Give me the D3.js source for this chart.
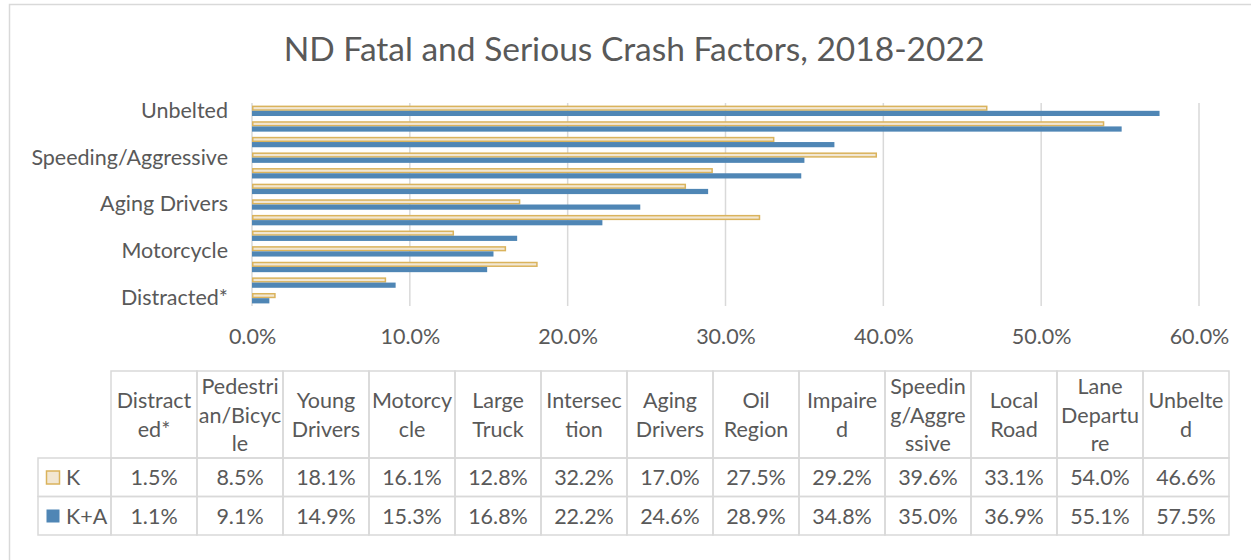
<!DOCTYPE html>
<html>
<head>
<meta charset="utf-8">
<script src="https://cdn.jsdelivr.net/npm/d3@7/dist/d3.min.js"></script>
<style>
  body { margin: 0; background: #fff; }
  text { font-family: Lato, "Open Sans", sans-serif; fill: #595959; }
</style>
</head>
<body>
<div id="chart"></div>
<script>
// data, bottom to top as in the chart
var categories = ["Distracted*", "Pedestrian/Bicycle", "Young Drivers", "Motorcycle", "Large Truck",
  "Intersection", "Aging Drivers", "Oil Region", "Impaired", "Speeding/Aggressive",
  "Local Road", "Lane Departure", "Unbelted"];

// wrapped header labels as shown in the data table
var headerLines = [["Distract", "ed*"], ["Pedestri", "an/Bicyc", "le"], ["Young", "Drivers"],
  ["Motorcy", "cle"], ["Large", "Truck"], ["Intersec", "tion"], ["Aging", "Drivers"],
  ["Oil", "Region"], ["Impaire", "d"], ["Speedin", "g/Aggre", "ssive"], ["Local", "Road"],
  ["Lane", "Departu", "re"], ["Unbelte", "d"]];

var kValues  = [1.5, 8.5, 18.1, 16.1, 12.8, 32.2, 17.0, 27.5, 29.2, 39.6, 33.1, 54.0, 46.6];
var kaValues = [1.1, 9.1, 14.9, 15.3, 16.8, 22.2, 24.6, 28.9, 34.8, 35.0, 36.9, 55.1, 57.5];

var seriesNames = ["K", "K+A"];
var xTicks = [0, 10, 20, 30, 40, 50, 60];

var width = 1251,
    height = 560,
    fontSize = "21.5px";

var colors = {
  "K":   { fill: "#f2e7d3", stroke: "#dab35c" },
  "K+A": { fill: "#4f86b5", stroke: "none" }
};

var rows = categories.map(function(c, i) {
  return { cat: c, "K": kValues[i], "K+A": kaValues[i], lines: headerLines[i] };
});

var svg = d3.select("#chart").append("svg")
  .attr("width", width)
  .attr("height", height);

// outer chart frame (runs off the window on the right and bottom)
svg.append("rect")
  .attr("x", 9.5).attr("y", 4.5)
  .attr("width", 1300).attr("height", 600)
  .attr("fill", "none")
  .attr("stroke", "#d9d9d9")
  .attr("stroke-width", 1.5);

svg.append("text")
  .attr("x", 634).attr("y", 61)
  .attr("text-anchor", "middle")
  .style("font-size", "33.5px")
  .text("ND Fatal and Serious Crash Factors, 2018-2022");

// scales
var x = d3.scaleLinear().domain([0, 60]).range([252, 1199]);

var y = d3.scaleBand()
  .domain(categories.slice().reverse())
  .range([103, 306]);

var ySub = d3.scaleBand()
  .domain(seriesNames)
  .range([0, y.bandwidth()])
  .paddingOuter(0.5);

// gridlines
svg.append("g")
  .selectAll("line")
  .data(xTicks)
  .enter().append("line")
  .attr("x1", function(d) { return x(d); })
  .attr("x2", function(d) { return x(d); })
  .attr("y1", y.range()[0])
  .attr("y2", y.range()[1])
  .attr("stroke", "#d9d9d9")
  .attr("stroke-width", 1.5);

// bars
var group = svg.append("g")
  .selectAll("g")
  .data(rows)
  .enter().append("g")
  .attr("transform", function(d) { return "translate(0," + y(d.cat) + ")"; });

group.selectAll("rect")
  .data(function(d) { return seriesNames.map(function(s) { return { s: s, v: d[s] }; }); })
  .enter().append("rect")
  .attr("x", function(d) { return x(0) + (d.s === "K" ? 0.75 : 0); })
  .attr("y", function(d) { return ySub(d.s) + (d.s === "K" ? 0.75 : 0); })
  .attr("width", function(d) { return x(d.v) - x(0) - (d.s === "K" ? 1.5 : 0); })
  .attr("height", function(d) { return ySub.bandwidth() - (d.s === "K" ? 1.5 : 0); })
  .attr("fill", function(d) { return colors[d.s].fill; })
  .attr("stroke", function(d) { return colors[d.s].stroke; })
  .attr("stroke-width", 1.5);

// y axis: Excel only shows every third label
var yAxis = svg.append("g")
  .attr("transform", "translate(" + x(0) + ",0)")
  .call(d3.axisLeft(y)
    .tickValues(categories.filter(function(d, i) { return i % 3 === 0; }))
    .tickSize(0)
    .tickPadding(24));
yAxis.select(".domain").remove();
yAxis.selectAll("text")
  .style("font-size", fontSize)
  .style("font-family", "Lato, sans-serif")
  .attr("fill", "#595959");

// x axis
var xAxis = svg.append("g")
  .attr("transform", "translate(0," + y.range()[1] + ")")
  .call(d3.axisBottom(x)
    .tickValues(xTicks)
    .tickSize(0)
    .tickPadding(23)
    .tickFormat(function(d) { return d.toFixed(1) + "%"; }));
xAxis.select(".domain").remove();
xAxis.selectAll("text")
  .style("font-size", fontSize)
  .style("font-family", "Lato, sans-serif")
  .attr("fill", "#595959");

// data table
var col = d3.scaleBand().domain(categories).range([111, 1229]);
var tableTop = 371, headBottom = 458, rowH = 38.5, legendLeft = 38;
var border = "#d9d9d9";

var table = svg.append("g");

// header cells
table.selectAll(".head")
  .data(rows)
  .enter().append("rect")
  .attr("class", "head")
  .attr("x", function(d) { return col(d.cat); })
  .attr("y", tableTop)
  .attr("width", col.bandwidth())
  .attr("height", headBottom - tableTop)
  .attr("fill", "none")
  .attr("stroke", border)
  .attr("stroke-width", 1.5);

table.selectAll(".headText")
  .data(rows)
  .enter().append("text")
  .attr("class", "headText")
  .attr("text-anchor", "middle")
  .style("font-size", fontSize)
  .each(function(d) {
    var t = d3.select(this);
    var n = d.lines.length;
    var lh = 28.5;
    var cy = (tableTop + headBottom) / 2;
    d.lines.forEach(function(line, i) {
      t.append("tspan")
        .attr("x", col(d.cat) + col.bandwidth() / 2)
        .attr("y", cy + (i - (n - 1) / 2) * lh + 8)
        .text(line);
    });
  });

// value rows
seriesNames.forEach(function(s, r) {
  var top = headBottom + r * rowH;
  var values = r === 0 ? kValues : kaValues;

  table.append("rect")
    .attr("x", legendLeft)
    .attr("y", top)
    .attr("width", col.range()[0] - legendLeft)
    .attr("height", rowH)
    .attr("fill", "none")
    .attr("stroke", border)
    .attr("stroke-width", 1.5);

  table.append("rect")
    .attr("x", 46.5).attr("y", top + 13)
    .attr("width", 13).attr("height", 13)
    .attr("fill", colors[s].fill)
    .attr("stroke", colors[s].stroke)
    .attr("stroke-width", 1.5);

  table.append("text")
    .attr("x", 66)
    .attr("y", top + rowH / 2 + 8)
    .style("font-size", fontSize)
    .text(s);

  table.selectAll(".cell" + r)
    .data(categories)
    .enter().append("rect")
    .attr("x", function(d) { return col(d); })
    .attr("y", top)
    .attr("width", col.bandwidth())
    .attr("height", rowH)
    .attr("fill", "none")
    .attr("stroke", border)
    .attr("stroke-width", 1.5);

  table.selectAll(".val" + r)
    .data(values)
    .enter().append("text")
    .attr("x", function(d, i) { return col(categories[i]) + col.bandwidth() / 2; })
    .attr("y", top + rowH / 2 + 8)
    .attr("text-anchor", "middle")
    .style("font-size", fontSize)
    .text(function(d) { return d.toFixed(1) + "%"; });
});
</script>
</body>
</html>
